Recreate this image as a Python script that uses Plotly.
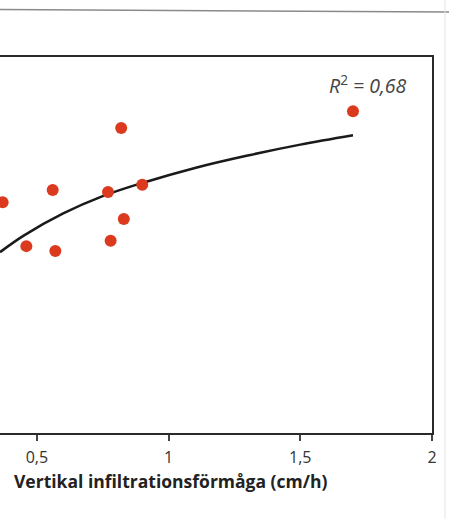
import plotly.graph_objects as go

# Measured plots: vertical infiltration capacity vs. response
infiltration = [1.70, 0.82, 0.37, 0.56, 0.77, 0.90, 0.83, 0.46, 0.57, 0.78]
response = [8.56, 8.11, 6.14, 6.46, 6.41, 6.60, 5.69, 4.97, 4.84, 5.11]

# Fitted trend line (R² = 0,68)
trend_x = [0.36, 0.45, 0.60, 0.75, 0.90, 1.10, 1.30, 1.50, 1.70]
trend_y = [4.81, 5.25, 5.84, 6.30, 6.65, 7.05, 7.38, 7.67, 7.92]

tick_vals = [0.5, 1, 1.5, 2]
tick_text = ["0,5", "1", "1,5", "2"]

W, H = 449, 519
M_L, M_R, M_T, M_B = 0, 17, 57, 86
plot_w = W - M_L - M_R
plot_h = H - M_T - M_B


def px_to_paper_x(px):
    return (px - M_L) / plot_w


def px_to_paper_y(py):
    return (H - M_B - py) / plot_h


fig = go.Figure()

fig.add_trace(go.Scatter(
    x=trend_x, y=trend_y,
    mode="lines",
    line=dict(color="#1a1a1a", width=2.5, shape="spline", smoothing=1.0),
    hoverinfo="skip",
    showlegend=False,
))

fig.add_trace(go.Scatter(
    x=infiltration, y=response,
    mode="markers",
    marker=dict(color="#dc3a1f", size=12, line=dict(width=0)),
    showlegend=False,
))

fig.update_layout(
    width=W, height=H,
    margin=dict(l=M_L, r=M_R, t=M_T, b=M_B, pad=0),
    paper_bgcolor="white",
    plot_bgcolor="white",
    font=dict(family="Open Sans, sans-serif", color="#333333"),
    xaxis=dict(
        range=[0.36, 2.0],
        tickmode="array",
        tickvals=tick_vals,
        ticktext=tick_text,
        ticks="outside",
        ticklen=6,
        tickwidth=1.5,
        tickcolor="#444444",
        tickfont=dict(size=16, color="#333333", family="Open Sans, sans-serif"),
        ticklabelstandoff=3,
        showgrid=False,
        zeroline=False,
        showline=True,
        linecolor="#2a2a2a",
        linewidth=1.5,
        mirror=True,
    ),
    yaxis=dict(
        range=[0, 10],
        side="right",
        showticklabels=False,
        ticks="",
        showgrid=False,
        zeroline=False,
        showline=True,
        linecolor="#2a2a2a",
        linewidth=1.5,
    ),
    annotations=[
        dict(
            text="<i>R</i><sup>2</sup><i> = 0,68</i>",
            xref="paper", yref="paper",
            x=px_to_paper_x(409), y=px_to_paper_y(84),
            xanchor="right", yanchor="middle",
            showarrow=False,
            font=dict(size=19.5, color="#444444", family="Open Sans, sans-serif"),
        ),
        dict(
            text="<b>Vertikal infiltrationsförmåga (cm/h)</b>",
            xref="paper", yref="paper",
            x=px_to_paper_x(170), y=px_to_paper_y(481),
            xanchor="center", yanchor="middle",
            showarrow=False,
            font=dict(size=17.5, color="#222222", family="Open Sans, sans-serif"),
        ),
    ],
    shapes=[
        # page rule above the figure
        dict(
            type="line", xref="paper", yref="paper",
            x0=px_to_paper_x(0), x1=px_to_paper_x(W),
            y0=px_to_paper_y(9.5), y1=px_to_paper_y(12),
            line=dict(color="#8a8a8a", width=1.5),
        ),
        # faint page edge on the right
        dict(
            type="line", xref="paper", yref="paper",
            x0=px_to_paper_x(445), x1=px_to_paper_x(445),
            y0=px_to_paper_y(0), y1=px_to_paper_y(H),
            line=dict(color="#e4e4e4", width=1),
        ),
    ],
)

fig.write_html("out.html")
